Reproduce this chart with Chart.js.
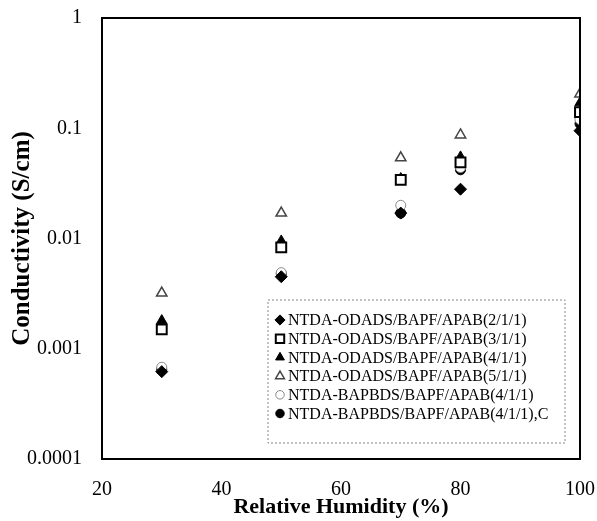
<!DOCTYPE html>
<html>
<head>
<meta charset="utf-8">
<script src="https://cdn.jsdelivr.net/npm/chart.js@4"></script>
<style>
  html, body { margin: 0; padding: 0; background: #fff; }
</style>
</head>
<body>
<canvas id="grafico" width="597" height="521"></canvas>
<script>
// Humidade relativa (%)
const umidade = [30, 50, 70, 80, 100];

// Condutividade (S/cm)
const odads211 = [0.00062, 0.0045, 0.017, 0.028, 0.095];
const odads311 = [0.0015, 0.0083, 0.034, 0.049, 0.14];
const odads411 = [0.0018, 0.0095, 0.035, 0.055, 0.17];
const odads511 = [0.0032, 0.017, 0.054, 0.087, 0.205];
const bapbds411 = [0.00068, 0.0049, 0.020, 0.044, 0.12];
const bapbds411C = [0.00065, 0.0048, 0.017, 0.042, 0.11];

const nomes = [
  'NTDA-ODADS/BAPF/APAB(2/1/1)',
  'NTDA-ODADS/BAPF/APAB(3/1/1)',
  'NTDA-ODADS/BAPF/APAB(4/1/1)',
  'NTDA-ODADS/BAPF/APAB(5/1/1)',
  'NTDA-BAPBDS/BAPF/APAB(4/1/1)',
  'NTDA-BAPBDS/BAPF/APAB(4/1/1),C'
];

const xTicks = [20, 40, 60, 80, 100];
const yTicks = [0.0001, 0.001, 0.01, 0.1, 1];

function pontos(valores) {
  return umidade.map((h, i) => ({ x: h, y: valores[i] }));
}

const serif = "'Liberation Serif', 'Times New Roman', serif";

// Moldura do gráfico
const moldura = {
  id: 'moldura',
  afterDatasetsDraw(chart) {
    const { ctx, chartArea: a } = chart;
    ctx.save();
    ctx.strokeStyle = '#000';
    ctx.lineWidth = 2;
    ctx.strokeRect(a.left, a.top, a.right - a.left, a.bottom - a.top);
    ctx.restore();
  }
};

// Legenda dentro da área do gráfico
const legendaInterna = {
  id: 'legendaInterna',
  afterDraw(chart) {
    const ctx = chart.ctx;
    const bx = 268, by = 300, bw = 297, bh = 143;
    ctx.save();
    ctx.fillStyle = '#fff';
    ctx.fillRect(bx, by, bw, bh);
    ctx.setLineDash([2, 2]);
    ctx.strokeStyle = '#888';
    ctx.lineWidth = 1;
    ctx.strokeRect(bx, by, bw, bh);
    ctx.setLineDash([]);
    ctx.beginPath();
    ctx.rect(bx, by, bw, bh);
    ctx.clip();
    chart.data.datasets.forEach((ds, i) => {
      const y = by + 20 + i * 18.7;
      ctx.fillStyle = ds.backgroundColor;
      ctx.strokeStyle = ds.borderColor;
      ctx.lineWidth = ds.borderWidth;
      Chart.helpers.drawPoint(ctx, {
        pointStyle: ds.pointStyle,
        radius: ds.pointRadius * 0.85,
        rotation: 0,
        borderWidth: ds.borderWidth
      }, bx + 12, y);
      ctx.fillStyle = '#000';
      ctx.font = '16px ' + serif;
      ctx.textBaseline = 'middle';
      ctx.fillText(ds.label, bx + 20, y + 1);
    });
    ctx.restore();
  }
};

const estilos = [
  { pointStyle: 'rectRot', pointRadius: 6, backgroundColor: '#000', borderColor: '#000', borderWidth: 1 },
  { pointStyle: 'rect', pointRadius: 7, backgroundColor: '#fff', borderColor: '#000', borderWidth: 2 },
  { pointStyle: 'triangle', pointRadius: 6, backgroundColor: '#000', borderColor: '#000', borderWidth: 1 },
  { pointStyle: 'triangle', pointRadius: 6, backgroundColor: '#fff', borderColor: '#444', borderWidth: 1.5 },
  { pointStyle: 'circle', pointRadius: 5, backgroundColor: '#fff', borderColor: '#888', borderWidth: 1 },
  { pointStyle: 'circle', pointRadius: 5, backgroundColor: '#000', borderColor: '#000', borderWidth: 1 }
];

const series = [odads211, odads311, odads411, odads511, bapbds411, bapbds411C];

new Chart(document.getElementById('grafico'), {
  type: 'scatter',
  data: {
    datasets: series.map((s, i) => Object.assign({
      label: nomes[i],
      data: pontos(s),
      showLine: false
    }, estilos[i]))
  },
  options: {
    responsive: false,
    animation: false,
    layout: { padding: { top: 18, right: 17, bottom: 0, left: 0 } },
    plugins: {
      legend: { display: false },
      tooltip: { enabled: false }
    },
    scales: {
      x: {
        type: 'linear',
        min: 20,
        max: 100,
        afterBuildTicks: (scale) => { scale.ticks = xTicks.map(v => ({ value: v })); },
        afterFit: (scale) => {
          scale.height = 62;
          scale.paddingLeft = 0;
          scale.paddingRight = 0;
        },
        grid: { display: false },
        border: { display: false },
        ticks: { color: '#000', font: { family: serif, size: 20 }, padding: 11 },
        title: {
          display: true,
          text: 'Relative Humidity (%)',
          color: '#000',
          font: { family: serif, size: 22, weight: 'bold' },
          padding: { top: 0, bottom: 0 }
        }
      },
      y: {
        type: 'logarithmic',
        min: 0.0001,
        max: 1,
        afterBuildTicks: (scale) => { scale.ticks = yTicks.map(v => ({ value: v })); },
        afterFit: (scale) => {
          scale.width = 102;
          scale.paddingTop = 0;
          scale.paddingBottom = 0;
        },
        grid: { display: false },
        border: { display: false },
        ticks: {
          color: '#000',
          font: { family: serif, size: 20 },
          padding: 12,
          callback: (v) => String(v)
        },
        title: {
          display: true,
          text: 'Conductivity (S/cm)',
          color: '#000',
          font: { family: serif, size: 25, weight: 'bold' },
          padding: { top: 8, bottom: 0 }
        }
      }
    }
  },
  plugins: [moldura, legendaInterna]
});
</script>
</body>
</html>
